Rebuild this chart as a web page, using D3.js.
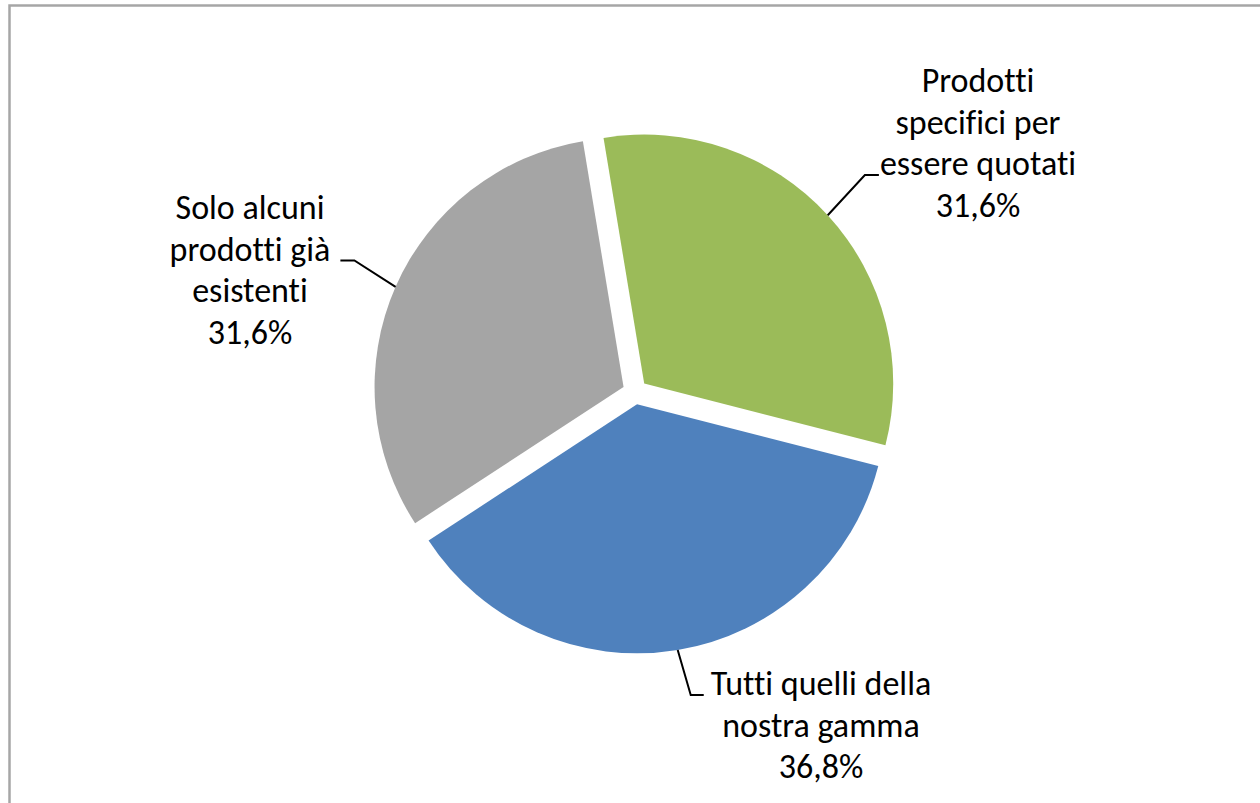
<!DOCTYPE html>
<html>
<head>
<meta charset="utf-8">
<script src="https://cdn.jsdelivr.net/npm/d3@7"></script>
<style>
  html, body { margin: 0; padding: 0; background: #fff; }
  svg { display: block; }
  .lbl { font-family: Carlito, "Liberation Sans Narrow", "Liberation Sans", sans-serif; font-size: 34px; fill: #000;
         font-variant-ligatures: none; font-feature-settings: "liga" 0, "clig" 0; }
</style>
</head>
<body>
<div id="chart"></div>
<script>
// data
var categories = [
  ["Prodotti", "specifici per", "essere quotati"],
  ["Tutti quelli della", "nostra gamma"],
  ["Solo alcuni", "prodotti già", "esistenti"]
];
var values = [31.6, 36.8, 31.6];
var percentLabels = ["31,6%", "36,8%", "31,6%"];
var colors = ["#9BBB59", "#4F81BD", "#A5A5A5"];

var width = 1260, height = 803;
var cx = 635, cy = 392, radius = 249, explode = 12.5;
var startDeg = -9.4;

// label placement: centre x, first baseline, which line the leader hooks into, side
var labelLayout = [
  {x: 978, y: 92, hook: 2, side: "left", gap: 1, elbow: 14},
  {x: 821, y: 695, hook: 0, side: "left", gap: 7, elbow: 13},
  {x: 250, y: 219, hook: 1, side: "right", gap: 10, elbow: 14}
];
var lineH = 41.5;

var svg = d3.select("#chart").append("svg")
  .attr("width", width)
  .attr("height", height);

// chart area frame (only top and left edges show)
svg.append("rect")
  .attr("x", 9.5).attr("y", 5.5)
  .attr("width", 1400).attr("height", 1000)
  .attr("fill", "none")
  .attr("stroke", "#A6A6A6")
  .attr("stroke-width", 2.5);

var pie = d3.pie().sort(null)
  .startAngle(startDeg * Math.PI / 180)
  .endAngle(startDeg * Math.PI / 180 + 2 * Math.PI);

var arcs = pie(values);
var arc = d3.arc().innerRadius(0).outerRadius(radius);

function offsetOf(d) {
  var mid = (d.startAngle + d.endAngle) / 2;
  return [Math.sin(mid) * explode, -Math.cos(mid) * explode];
}

var g = svg.append("g").attr("transform", "translate(" + cx + "," + cy + ")");

g.selectAll("path.slice")
  .data(arcs)
  .enter()
  .append("path")
  .attr("class", "slice")
  .attr("transform", function (d) {
    var o = offsetOf(d);
    return "translate(" + o[0] + "," + o[1] + ")";
  })
  .attr("d", arc)
  .attr("fill", function (d, i) { return colors[i]; });

// labels
arcs.forEach(function (d, i) {
  var lay = labelLayout[i];
  var lines = categories[i].concat([percentLabels[i]]);
  var t = svg.append("text")
    .attr("class", "lbl")
    .attr("text-anchor", "middle");
  lines.forEach(function (ln, j) {
    t.append("tspan")
      .attr("x", lay.x)
      .attr("y", lay.y + j * lineH)
      .text(ln);
  });

  // leader line: slice edge at mid angle -> elbow -> next to the text
  var hookLine = t.selectAll("tspan").nodes()[lay.hook];
  var w = hookLine.getComputedTextLength();
  var hy = lay.y + lay.hook * lineH;
  var endX, elbowX;
  if (lay.side == "left") {
    endX = lay.x - w / 2 - lay.gap;
    elbowX = endX - lay.elbow;
  } else {
    endX = lay.x + w / 2 + lay.gap;
    elbowX = endX + lay.elbow;
  }
  var mid = (d.startAngle + d.endAngle) / 2;
  var o = offsetOf(d);
  var sx = cx + o[0] + Math.sin(mid) * radius;
  var sy = cy + o[1] - Math.cos(mid) * radius;

  svg.append("path")
    .attr("d", d3.line()([[sx, sy], [elbowX, hy], [endX, hy]]))
    .attr("fill", "none")
    .attr("stroke", "#000")
    .attr("stroke-width", 2);
});
</script>
</body>
</html>
